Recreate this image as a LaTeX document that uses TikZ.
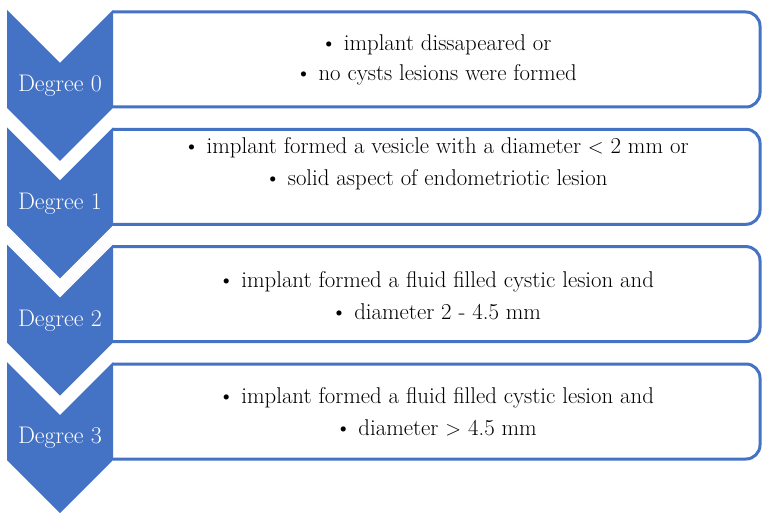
\documentclass[tikz,border=0pt]{standalone}
\usepackage{fontspec}
\usepackage{tikz}
\definecolor{degblue}{HTML}{4472C4}
\tikzset{chev/.style={fill=degblue, draw=none},
    degbox/.style={draw=degblue, line width=3pt, rounded corners=14pt},
    deglabel/.style={text=white, font=\fontsize{24}{28}\selectfont, inner sep=0pt},
    itemtext/.style={text=black, font=\fontsize{22.8}{27}\selectfont, inner sep=0pt}}

\begin{document}
\begin{tikzpicture}[x=1pt,y=-1pt]
                 \useasboundingbox(0,0) rectangle (770,521);
                 % boxes
                 \draw[degbox](113,12)--(760,12)--(760,107)--(113,107);
                 \draw[degbox](113,129.3)--(760,129.3)--(760,224.3)--(113,224.3);
                 \draw[degbox](113,246.6)--(760,246.6)--(760,341.6)--(113,341.6);
                 \draw[degbox](113,364)--(760,364)--(760,459)--(113,459);
                 % chevrons
                 \fill[chev](7,10)--(60,63)--(113,10)--(113,108)--(60,161)--(7,108)--cycle;
                 \fill[chev](7,127.3)--(60,180.3)--(113,127.3)--(113,225.3)--(60,278.3)--(7,225.3)--cycle;
                 \fill[chev](7,244.6)--(60,297.6)--(113,244.6)--(113,342.6)--(60,395.6)--(7,342.6)--cycle;
                 \fill[chev](7,362)--(60,415)--(113,362)--(113,460)--(60,513)--(7,460)--cycle;
                 % labels
                 \node[deglabel](d0)at(60,86){Degree 0};
                 \node[deglabel](d1)at(60,204){Degree 1};
                 \node[deglabel](d2)at(60,321){Degree 2};
                 \node[deglabel](d3)at(60,438){Degree 3};
                 % texts
                 \node[itemtext](t0a)at(436,45){\textbullet{} implant dissapeared or};
                 \node[itemtext](t0b)at(436,75){\textbullet{} no cysts lesions were formed};
                 \node[itemtext](t1a)at(436,148){\textbullet{} implant formed a vesicle with a diameter $<$ 2 mm or};
                 \node[itemtext](t1b)at(436,180){\textbullet{} solid aspect of endometriotic lesion};
                 \node[itemtext](t2a)at(436,282){\textbullet{} implant formed a fluid filled cystic lesion and};
                 \node[itemtext](t2b)at(436,312){\textbullet{} diameter 2 - 4.5 mm};
                 \node[itemtext](t3a)at(436,398){\textbullet{} implant formed a fluid filled cystic lesion and};
                 \node[itemtext](t3b)at(436,428){\textbullet{} diameter $>$ 4.5 mm};
\end{tikzpicture}
\end{document}
